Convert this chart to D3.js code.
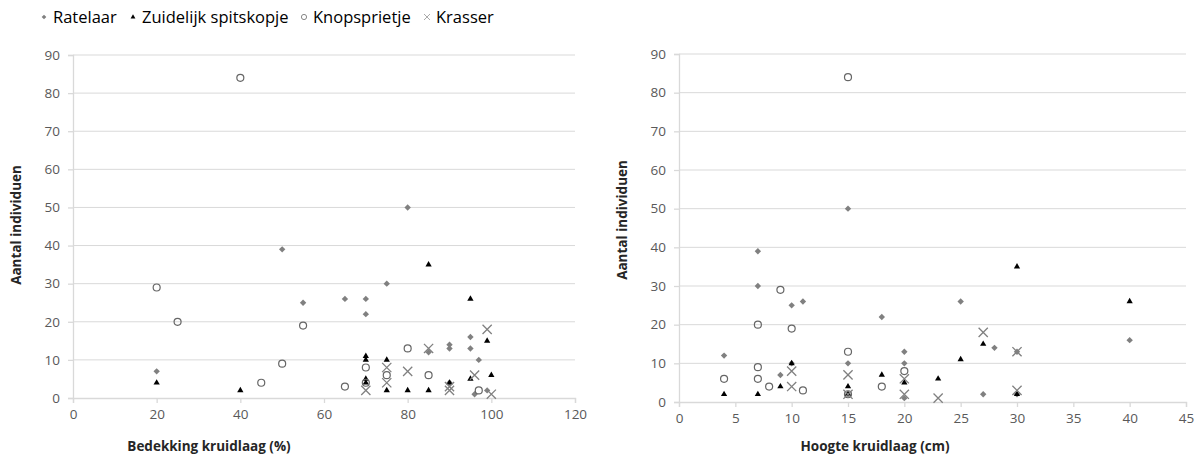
<!DOCTYPE html>
<html><head><meta charset="utf-8">
<script src="https://cdn.jsdelivr.net/npm/d3@7"></script>
<style>body{margin:0;background:#fff}svg{display:block}</style>
</head><body>
<svg id="c" width="1200" height="461"></svg>
<script>
const seriesNames = ["Ratelaar", "Zuidelijk spitskopje", "Knopsprietje", "Krasser"];
const yTicks = [0,10,20,30,40,50,60,70,80,90];
const xTicksCover = [0,20,40,60,80,100,120];
const xTicksHeight = [0,5,10,15,20,25,30,35,40,45];

// Left chart: bedekking kruidlaag (%) vs aantal individuen
const coverRatelaar = [[20,7],[50,39],[55,25],[65,26],[70,26],[70,22],[75,30],[80,50],[85,12],[90,14],[90,13],[90,4],[95,16],[95,13],[97,10],[96,1],[99,2]];
const coverZuidelijk = [[20,4],[40,2],[70,11],[70,10],[70,5],[70,4],[75,10],[75,2],[80,2],[85,35],[85,2],[90,4],[95,26],[95,5],[99,15],[100,6]];
const coverKnop = [[20,29],[25,20],[40,84],[45,4],[50,9],[55,19],[65,3],[70,8],[70,4],[75,6],[80,13],[85,6],[97,2]];
const coverKrasser = [[70,2],[75,8],[75,4],[80,7],[85,13],[90,3],[90,2],[96,6],[99,18],[100,1]];

// Right chart: hoogte kruidlaag (cm) vs aantal individuen
const heightRatelaar = [[4,12],[7,39],[7,30],[9,7],[10,25],[10,10],[11,26],[15,50],[15,10],[15,2],[18,22],[20,13],[20,10],[20,1],[25,26],[27,2],[28,14],[30,13],[30,2],[40,16]];
const heightZuidelijk = [[4,2],[7,2],[9,4],[10,10],[15,4],[15,2],[18,7],[20,5],[23,6],[25,11],[27,15],[30,35],[30,2],[40,26]];
const heightKnop = [[4,6],[7,20],[7,9],[7,6],[8,4],[9,29],[10,19],[11,3],[15,84],[15,13],[15,2],[18,4],[20,8]];
const heightKrasser = [[10,8],[10,4],[15,7],[15,2],[20,6],[20,2],[23,1],[27,18],[30,13],[30,3]];

const svg = d3.select("#c");
const FONT = "'Open Sans', 'Liberation Sans', sans-serif";
const GRID = "#d9d9d9", TXT = "#595959", MARK = "#808080";

function drawMarker(g, type, x, y) {
  if (type === 0) {
    g.append("path").attr("d", d3.symbol(d3.symbolDiamond2, 26)()).attr("transform", `translate(${x},${y})`).attr("fill", MARK);
  } else if (type === 1) {
    g.append("path").attr("d", d3.symbol(d3.symbolTriangle, 17)()).attr("transform", `translate(${x},${y})`).attr("fill", "#000");
  } else if (type === 2) {
    g.append("circle").attr("cx", x).attr("cy", y).attr("r", 3.5).attr("fill", "none").attr("stroke", "#666").attr("stroke-width", 1.2);
  } else {
    const s = 4.6;
    g.append("path").attr("d", `M${x-s},${y-s}L${x+s},${y+s}M${x-s},${y+s}L${x+s},${y-s}`).attr("stroke", MARK).attr("stroke-width", 1.3);
  }
}

function chart(cfg) {
  const x = d3.scaleLinear().domain(cfg.xDomain).range([cfg.x0, cfg.x1]);
  const y = d3.scaleLinear().domain([0, 90]).range([cfg.y0, cfg.y1]);
  const g = svg.append("g");
  g.append("g").selectAll("line").data(yTicks.filter(d => d > 0)).join("line")
    .attr("x1", cfg.x0).attr("x2", cfg.x1).attr("y1", d => y(d)).attr("y2", d => y(d))
    .attr("stroke", GRID).attr("stroke-width", 1);
  const ya = g.append("g").attr("transform", `translate(${cfg.x0},0)`)
    .call(d3.axisLeft(y).tickValues(yTicks).tickSize(5).tickPadding(8));
  const xa = g.append("g").attr("transform", `translate(0,${cfg.y0})`)
    .call(d3.axisBottom(x).tickValues(cfg.xTicks).tickSize(5).tickPadding(6));
  [ya, xa].forEach(a => {
    a.select(".domain").attr("stroke", GRID).attr("stroke-width", 1.3);
    a.selectAll(".tick line").attr("stroke", GRID).attr("stroke-width", 1.3);
    a.selectAll("text").attr("fill", TXT).attr("font-family", FONT).attr("font-size", 13.5);
  });
  g.append("text").attr("x", cfg.xTitleX).attr("y", 451).attr("text-anchor", "middle")
    .attr("font-family", FONT).attr("font-weight", "bold").attr("font-size", 13.5).attr("fill", "#262626").text(cfg.xTitle);
  g.append("text").attr("transform", `translate(${cfg.yTitleX},${cfg.yTitleY}) rotate(-90)`).attr("text-anchor", "middle")
    .attr("font-family", FONT).attr("font-weight", "bold").attr("font-size", 13.5).attr("fill", "#262626").text("Aantal individuen");
  const pg = g.append("g");
  cfg.series.forEach((data, i) => {
    data.forEach(d => drawMarker(pg, i, x(d[0]), y(d[1])));
  });
}

chart({xDomain:[0,120], xTicks:xTicksCover, x0:73, x1:575, y0:398, y1:55,
  xTitle:"Bedekking kruidlaag (%)", xTitleX:209, yTitleX:21, yTitleY:225,
  series:[coverRatelaar, coverZuidelijk, coverKnop, coverKrasser]});
chart({xDomain:[0,45], xTicks:xTicksHeight, x0:679, x1:1186, y0:402, y1:54,
  xTitle:"Hoogte kruidlaag (cm)", xTitleX:875, yTitleX:627, yTitleY:220,
  series:[heightRatelaar, heightZuidelijk, heightKnop, heightKrasser]});

const legX = [44, 133, 304, 427];
const leg = svg.append("g");
seriesNames.forEach((n, i) => {
  const lg = leg.append("g");
  if (i === 0) lg.append("path").attr("d", d3.symbol(d3.symbolDiamond2, 14)()).attr("transform", `translate(${legX[i]},17)`).attr("fill", MARK);
  if (i === 1) lg.append("path").attr("d", d3.symbol(d3.symbolTriangle, 10)()).attr("transform", `translate(${legX[i]},17)`).attr("fill", "#000");
  if (i === 2) lg.append("circle").attr("cx", legX[i]).attr("cy", 17).attr("r", 2.6).attr("fill", "none").attr("stroke", "#888").attr("stroke-width", 1);
  if (i === 3) lg.append("path").attr("d", `M${legX[i]-3},14L${legX[i]+3},20M${legX[i]-3},20L${legX[i]+3},14`).attr("stroke", "#aaa").attr("stroke-width", 1);
  lg.append("text").attr("x", legX[i] + 9).attr("y", 23).attr("font-family", FONT).attr("font-size", 16.5).attr("fill", "#000").text(n);
});
</script>
</body></html>
